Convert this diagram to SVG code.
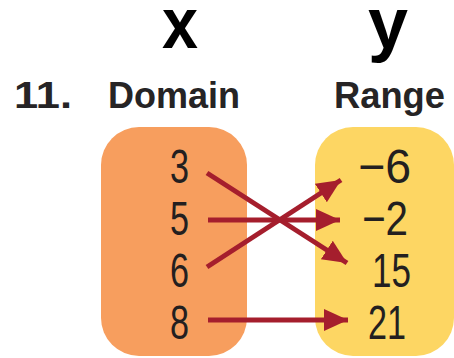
<svg xmlns="http://www.w3.org/2000/svg" width="454" height="358" viewBox="0 0 454 358">
<defs>
<style>
.hdr{font-family:"Liberation Sans",Arial,sans-serif;font-weight:bold;fill:#000}
.lbl{font-family:"Liberation Sans",Arial,sans-serif;font-weight:bold;font-size:37px;fill:#262425}
.num{font-family:"Liberation Sans",Arial,sans-serif;font-size:48px;fill:#231f20}
.arr{stroke:#a51e2d;stroke-width:5;fill:none}
</style>
<marker id="ah" markerUnits="userSpaceOnUse" markerWidth="26" markerHeight="24" refX="24" refY="11" orient="auto">
<path d="M0,0 L24,11 L0,22 Z" fill="#a51e2d"/>
</marker>
</defs>
<rect width="454" height="358" fill="#fff"/>
<g id="headers">
<text class="hdr" x="162" y="48" font-size="72" textLength="36" lengthAdjust="spacingAndGlyphs">x</text>
<text class="hdr" x="368" y="48" font-size="72" textLength="40" lengthAdjust="spacingAndGlyphs">y</text>
<text class="lbl" x="14" y="108" textLength="58" lengthAdjust="spacingAndGlyphs">11.</text>
<text class="lbl" x="108" y="108" textLength="132" lengthAdjust="spacingAndGlyphs">Domain</text>
<text class="lbl" x="334" y="108" textLength="111" lengthAdjust="spacingAndGlyphs">Range</text>
</g>
<g id="domain">
<rect x="101" y="127" width="146" height="229" rx="38" ry="38" fill="#f79e5e"/>
<text class="num" x="170" y="183" textLength="19" lengthAdjust="spacingAndGlyphs">3</text>
<text class="num" x="170" y="235" textLength="19" lengthAdjust="spacingAndGlyphs">5</text>
<text class="num" x="170" y="287" textLength="19" lengthAdjust="spacingAndGlyphs">6</text>
<text class="num" x="170" y="339" textLength="19" lengthAdjust="spacingAndGlyphs">8</text>
</g>
<g id="range">
<rect x="315" y="127" width="139" height="229" rx="38" ry="38" fill="#fdd663"/>
<text class="num" x="358" y="183" textLength="53" lengthAdjust="spacingAndGlyphs">−6</text>
<text class="num" x="362" y="235" textLength="46" lengthAdjust="spacingAndGlyphs">−2</text>
<text class="num" x="372" y="287" textLength="39" lengthAdjust="spacingAndGlyphs">15</text>
<text class="num" x="368" y="339" textLength="38" lengthAdjust="spacingAndGlyphs">21</text>
</g>
<g id="connectors">
<line class="arr" x1="207" y1="173" x2="347" y2="263" marker-end="url(#ah)"/>
<line class="arr" x1="208" y1="220" x2="340" y2="220" marker-end="url(#ah)"/>
<line class="arr" x1="207" y1="267" x2="341" y2="180" marker-end="url(#ah)"/>
<line class="arr" x1="208" y1="320" x2="348" y2="320" marker-end="url(#ah)"/>
</g>
</svg>
